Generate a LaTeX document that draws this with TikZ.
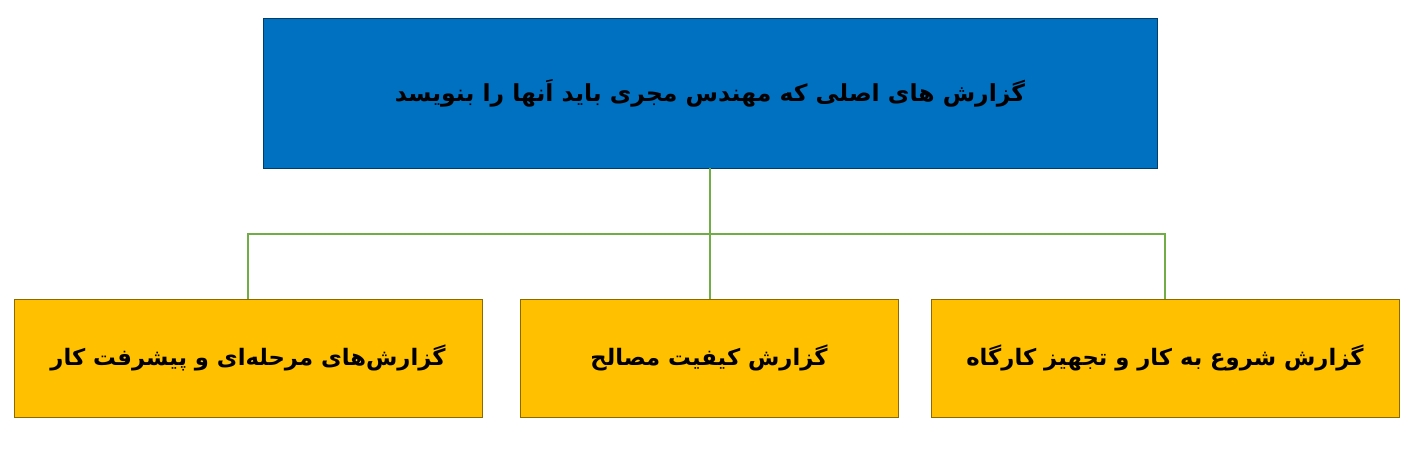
\documentclass[tikz,border=0pt]{standalone}
\usepackage{fontspec}
\TeXXeTstate=1
\newfontfamily\arabicfont[Script=Arabic]{DejaVu Sans}
\definecolor{topblue}{HTML}{0070C0}
\definecolor{boxyellow}{HTML}{FFC000}
\definecolor{linegreen}{HTML}{70AD47}
\tikzset{
  topbox/.style={rectangle, fill=topblue, draw=topblue!55!black, line width=0.9pt, inner sep=0pt,
    font=\arabicfont\bfseries\fontsize{23.5}{28}\selectfont, text=black},
  subbox/.style={rectangle, fill=boxyellow, draw=boxyellow!55!black, line width=0.9pt, inner sep=0pt,
    minimum height=118, font=\arabicfont\bfseries\fontsize{22.7}{27}\selectfont, text=black},
  conn/.style={draw=linegreen, line width=1.6pt}
}
\begin{document}
\begin{tikzpicture}[x=1pt,y=-1pt]
\useasboundingbox (0,0) rectangle (1416,449);
\node[topbox, minimum width=894, minimum height=150] (top) at (710,93) {\beginR گزارش های اصلی که مهندس مجری باید اَنها را بنویسد\endR};
\node[subbox, minimum width=468] (left) at (248,358) {\beginR گزارش‌های مرحله‌ای و پیشرفت کار\endR};
\node[subbox, minimum width=378] (mid) at (709,358) {\beginR گزارش کیفیت مصالح\endR};
\node[subbox, minimum width=468] (right) at (1165,358) {\beginR گزارش شروع به کار و تجهیز کارگاه\endR};
\coordinate (bus) at (710,234);
\draw[conn] (top.south) -- (top.south |- mid.north);
\draw[conn] (left.north) -- (left.north |- bus) -- (right.north |- bus) -- (right.north);
\end{tikzpicture}
\end{document}
